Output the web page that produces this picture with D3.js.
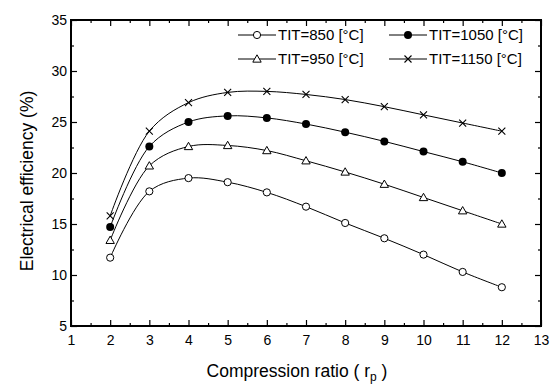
<!DOCTYPE html>
<html lang="en">
<head>
    <meta charset="UTF-8">
    <title>Electrical efficiency vs compression ratio</title>
    <script src="https://cdn.jsdelivr.net/npm/d3@7/dist/d3.min.js"></script>
    <style>
        body { margin: 0; background: #fff; }
        text { font-family: "Liberation Sans", Arial, sans-serif; fill: #000; }
    </style>
</head>
<body>
<script type="application/javascript">
    // compression ratio r_p
    const ratios = [2, 3, 4, 5, 6, 7, 8, 9, 10, 11, 12];
    // electrical efficiency (%) for each turbine inlet temperature
    const tit850 = [11.7, 18.2, 19.5, 19.1, 18.1, 16.7, 15.1, 13.6, 12.0, 10.3, 8.8];
    const tit950 = [13.4, 20.7, 22.6, 22.7, 22.2, 21.2, 20.1, 18.9, 17.6, 16.3, 15.0];
    const tit1050 = [14.7, 22.6, 25.0, 25.6, 25.4, 24.8, 24.0, 23.1, 22.1, 21.1, 20.0];
    const tit1150 = [15.8, 24.1, 26.9, 27.9, 28.0, 27.7, 27.2, 26.5, 25.7, 24.9, 24.1];
    const xTicks = [1, 2, 3, 4, 5, 6, 7, 8, 9, 10, 11, 12, 13];
    const yTicks = [5, 10, 15, 20, 25, 30, 35];

    const series = [
        {name: 'TIT=850 [°C]', values: tit850, marker: 'circle'},
        {name: 'TIT=950 [°C]', values: tit950, marker: 'triangle'},
        {name: 'TIT=1050 [°C]', values: tit1050, marker: 'dot'},
        {name: 'TIT=1150 [°C]', values: tit1150, marker: 'cross'}
    ];

    const w = 550, h = 385;
    const margin = {top: 20, right: 9, bottom: 59, left: 71};
    const iw = w - margin.left - margin.right;
    const ih = h - margin.top - margin.bottom;

    let svg = d3.select('body')
        .append('svg')
        .attr('width', w)
        .attr('height', h);

    let g = svg.append('g')
        .attr('transform', `translate(${margin.left},${margin.top})`);

    let x = d3.scaleLinear().domain([1, 13]).range([0, iw]);
    let y = d3.scaleLinear().domain([5, 35]).range([ih, 0]);

    // minor ticks halfway between majors
    const xMinor = d3.range(1.5, 13, 1);
    const yMinor = d3.range(7.5, 35, 5);

    function styleAxis(sel) {
        sel.select('.domain').remove();
        sel.selectAll('line').attr('stroke', '#000').attr('stroke-width', 1.2);
        sel.selectAll('text').attr('font-size', '14px').attr('fill', '#000')
            .attr('font-family', '"Liberation Sans", Arial, sans-serif');
    }

    // bottom
    g.append('g').attr('transform', `translate(0,${ih})`)
        .call(d3.axisBottom(x).tickValues(xTicks).tickSizeInner(-6).tickSizeOuter(0).tickPadding(9))
        .call(styleAxis);
    g.append('g').attr('transform', `translate(0,${ih})`)
        .call(d3.axisBottom(x).tickValues(xMinor).tickSizeInner(-3).tickSizeOuter(0).tickFormat(''))
        .call(styleAxis);
    // top
    g.append('g')
        .call(d3.axisTop(x).tickValues(xTicks).tickSizeInner(-6).tickSizeOuter(0).tickFormat(''))
        .call(styleAxis);
    g.append('g')
        .call(d3.axisTop(x).tickValues(xMinor).tickSizeInner(-3).tickSizeOuter(0).tickFormat(''))
        .call(styleAxis);
    // left
    g.append('g')
        .call(d3.axisLeft(y).tickValues(yTicks).tickSizeInner(-6).tickSizeOuter(0).tickPadding(4))
        .call(styleAxis);
    g.append('g')
        .call(d3.axisLeft(y).tickValues(yMinor).tickSizeInner(-3).tickSizeOuter(0).tickFormat(''))
        .call(styleAxis);
    // right
    g.append('g').attr('transform', `translate(${iw},0)`)
        .call(d3.axisRight(y).tickValues(yTicks).tickSizeInner(-6).tickSizeOuter(0).tickFormat(''))
        .call(styleAxis);
    g.append('g').attr('transform', `translate(${iw},0)`)
        .call(d3.axisRight(y).tickValues(yMinor).tickSizeInner(-3).tickSizeOuter(0).tickFormat(''))
        .call(styleAxis);

    // frame
    g.append('rect')
        .attr('width', iw).attr('height', ih)
        .attr('fill', 'none').attr('stroke', '#000').attr('stroke-width', 2);

    let line = d3.line()
        .x((d, i) => x(ratios[i]))
        .y(d => y(d))
        .curve(d3.curveCatmullRom.alpha(0.5));

    function drawMarker(sel, type, cx, cy) {
        if (type === 'circle') {
            sel.append('circle').attr('cx', cx).attr('cy', cy).attr('r', 3.6)
                .attr('fill', '#fff').attr('stroke', '#000').attr('stroke-width', 1);
        } else if (type === 'dot') {
            sel.append('circle').attr('cx', cx).attr('cy', cy).attr('r', 4)
                .attr('fill', '#000');
        } else if (type === 'triangle') {
            const s = 4.2;
            sel.append('path')
                .attr('d', `M${cx},${cy - s}L${cx + s},${cy + s * 0.75}L${cx - s},${cy + s * 0.75}Z`)
                .attr('fill', '#fff').attr('stroke', '#000').attr('stroke-width', 1);
        } else {
            const s = 3.5;
            sel.append('path')
                .attr('d', `M${cx - s},${cy - s}L${cx + s},${cy + s}M${cx - s},${cy + s}L${cx + s},${cy - s}`)
                .attr('fill', 'none').attr('stroke', '#000').attr('stroke-width', 1.1);
        }
    }

    series.forEach(s => {
        g.append('path')
            .datum(s.values)
            .attr('d', line)
            .attr('fill', 'none')
            .attr('stroke', '#000')
            .attr('stroke-width', 1);
        let m = g.append('g');
        s.values.forEach((v, i) => drawMarker(m, s.marker, x(ratios[i]), y(v)));
    });

    // legend, two columns
    const legendPos = [
        {lx: 238, ly: 35}, {lx: 238, ly: 59},
        {lx: 389, ly: 35}, {lx: 389, ly: 59}
    ];
    series.forEach((s, i) => {
        const p = legendPos[i];
        let lg = svg.append('g');
        lg.append('line')
            .attr('x1', p.lx).attr('x2', p.lx + 38)
            .attr('y1', p.ly).attr('y2', p.ly)
            .attr('stroke', '#000').attr('stroke-width', 1);
        drawMarker(lg, s.marker, p.lx + 19, p.ly);
        lg.append('text')
            .attr('x', p.lx + 40).attr('y', p.ly + 5)
            .attr('font-size', '15px')
            .text(s.name);
    });

    // axis titles
    let xt = svg.append('text')
        .attr('x', 297)
        .attr('y', 377)
        .attr('text-anchor', 'middle')
        .attr('font-size', '17.5px');
    xt.append('tspan').text('Compression ratio ( r');
    xt.append('tspan').attr('font-size', '12px').attr('dy', 4).text('p');
    xt.append('tspan').attr('dy', -4).text(' )');

    svg.append('text')
        .attr('transform', `translate(33,181) rotate(-90)`)
        .attr('text-anchor', 'middle')
        .attr('font-size', '17.5px')
        .text('Electrical efficiency (%)');
</script>
</body>
</html>
